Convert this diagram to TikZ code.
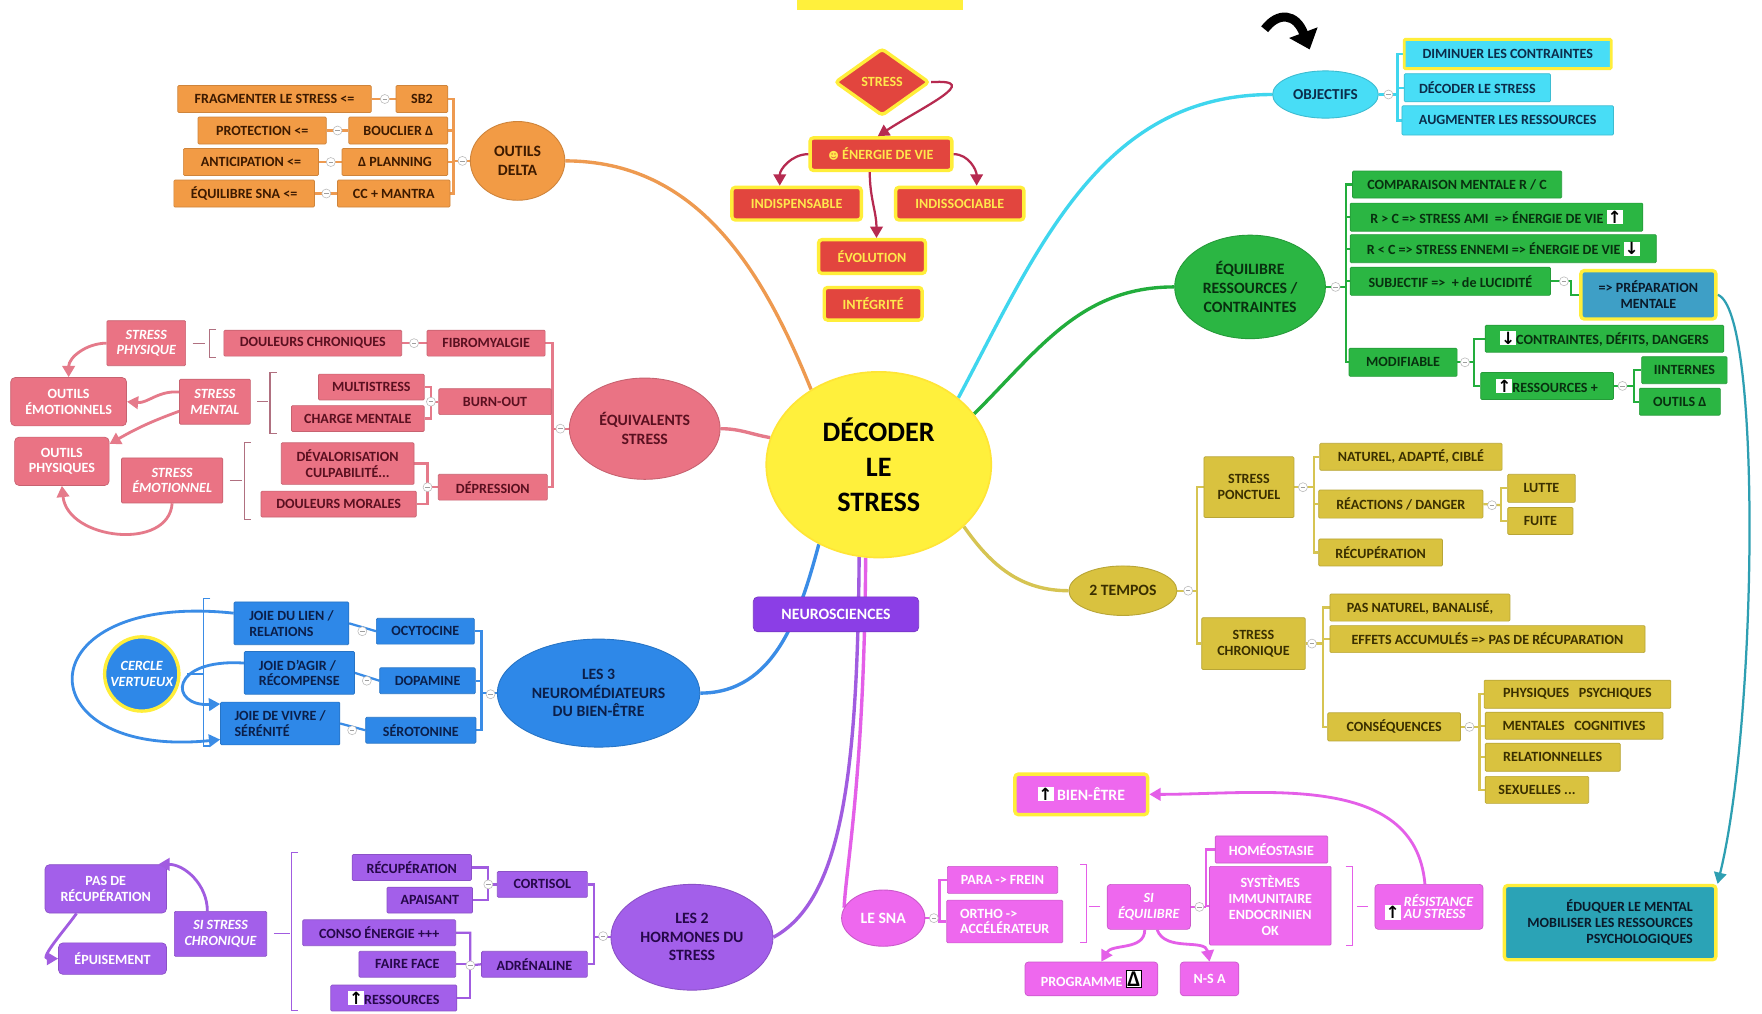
\documentclass[tikz,border=0pt]{standalone}
\usepackage{fontspec}
\setmainfont{Carlito}
\newfontfamily\symfont{DejaVu Sans}
\usepackage{tikz}
\usetikzlibrary{positioning, shapes.geometric, arrows.meta, backgrounds}
\definecolor{ctr_yel}{HTML}{FFF03C}
\definecolor{or_fill}{HTML}{F29B45}
\definecolor{or_text}{HTML}{3D1A00}
\definecolor{or_line}{HTML}{EE9A50}
\definecolor{pk_fill}{HTML}{EA7384}
\definecolor{pk_text}{HTML}{5A1020}
\definecolor{pk_line}{HTML}{E57A8A}
\definecolor{pk_brk}{HTML}{B07080}
\definecolor{bl_fill}{HTML}{2E88E8}
\definecolor{bl_text}{HTML}{0B1F4A}
\definecolor{bl_line}{HTML}{3A8CE6}
\definecolor{pu_fill}{HTML}{A35FEA}
\definecolor{pu_text}{HTML}{26084A}
\definecolor{pu_line}{HTML}{A15CE0}
\definecolor{ma_fill}{HTML}{EE68EE}
\definecolor{ma_line}{HTML}{E45FE8}
\definecolor{cy_fill}{HTML}{48DDF6}
\definecolor{cy_text}{HTML}{0C2C4A}
\definecolor{cy_line}{HTML}{3FD6EE}
\definecolor{gr_fill}{HTML}{2BB643}
\definecolor{gr_text}{HTML}{08300F}
\definecolor{gr_line}{HTML}{22AD3C}
\definecolor{ol_fill}{HTML}{D9C23F}
\definecolor{ol_text}{HTML}{3A2F00}
\definecolor{ol_line}{HTML}{D6C452}
\definecolor{rd_fill}{HTML}{E2453E}
\definecolor{rd_edge}{HTML}{FFEE3A}
\definecolor{rd_text}{HTML}{FFE84C}
\definecolor{rd_arrow}{HTML}{B62A50}
\definecolor{tl_fill}{HTML}{2BA3B6}
\definecolor{tl_prep}{HTML}{3E9FC6}
\definecolor{tl_line}{HTML}{2E9FB2}
\definecolor{tl_text}{HTML}{0A1A2A}
\definecolor{ns_fill}{HTML}{8B3EE6}
\newcommand{\boxfont}{\fontsize{12.5}{14}\selectfont\bfseries}
\newcommand{\topicfont}{\fontsize{14}{16.5}\selectfont\bfseries}
\newcommand{\centrefont}{\fontsize{25}{31}\selectfont\bfseries}
\newcommand{\arrup}{{\setlength{\fboxsep}{0.8pt}\colorbox{white}{\textcolor{black}{\symfont\bfseries\fontsize{15}{15}\selectfont ↑}}}}
\newcommand{\arrdown}{{\setlength{\fboxsep}{0.8pt}\colorbox{white}{\textcolor{black}{\symfont\bfseries\fontsize{15}{15}\selectfont ↓}}}}
\newcommand{\deltabox}{{\setlength{\fboxsep}{1pt}\fcolorbox{black}{white}{\textcolor{black}{\fontsize{20}{20}\selectfont Δ}}}}
\newcommand{\lbrk}[4]{\draw[#1] (#2+6,#3) -- (#2,#3) -- (#2,#4) -- (#2+6,#4);}
\newcommand{\rbrk}[4]{\draw[#1] (#2-6,#3) -- (#2,#3) -- (#2,#4) -- (#2-6,#4);}
\tikzset{
  sz/.style 2 args={minimum width=#1, minimum height=#2},
  box/.style={rectangle, inner sep=1.5pt, align=center, font=\boxfont, rounded corners=1pt, line width=0.6pt},
  topic/.style={ellipse, inner sep=0pt, align=center, font=\topicfont, line width=0.8pt},
  coll/.style={circle, draw=gray!55, fill=white, inner sep=0pt, minimum size=8pt, line width=0.5pt,
    path picture={\draw[gray!75, line width=0.6pt] ([xshift=-2pt]path picture bounding box.center) -- ([xshift=2pt]path picture bounding box.center);}},
  obox/.style={box, fill=or_fill, draw=or_fill!85!black, text=or_text},
  pbox/.style={box, fill=pk_fill, draw=pk_fill!85!black, text=pk_text},
  pwhite/.style={box, fill=pk_fill, draw=pk_fill!85!black, text=white},
  bbox/.style={box, fill=bl_fill, draw=bl_fill!85!black, text=bl_text},
  vbox/.style={box, fill=pu_fill, draw=pu_fill!85!black, text=pu_text},
  vwhite/.style={box, fill=pu_fill, draw=pu_fill!85!black, text=white},
  mbox/.style={box, fill=ma_fill, draw=ma_fill!85!black, text=white},
  cbox/.style={box, fill=cy_fill, draw=cy_fill!85!black, text=cy_text},
  gbox/.style={box, fill=gr_fill, draw=gr_fill!85!black, text=gr_text},
  ybox/.style={box, fill=ol_fill, draw=ol_fill!85!black, text=ol_text},
  rbox/.style={box, fill=rd_fill, draw=rd_edge, line width=3pt, rounded corners=3pt, text=rd_text},
  tbox/.style={box, fill=tl_fill, draw=rd_edge, line width=3pt, rounded corners=3pt, text=tl_text},
  oline/.style={draw=or_line, line width=2pt},
  pline/.style={draw=pk_line, line width=2pt},
  bline/.style={draw=bl_line, line width=2pt},
  vline/.style={draw=pu_line, line width=2pt},
  mline/.style={draw=ma_line, line width=2pt},
  cline/.style={draw=cy_line, line width=2pt},
  gline/.style={draw=gr_line, line width=2pt},
  yline/.style={draw=ol_line, line width=2pt},
  branch/.style={line width=3pt},
  tip/.style={-{Triangle[length=10pt,width=11pt]}},
  brk/.style={line width=1pt}
}
\begin{document}
\begin{tikzpicture}[x=1pt, y=-1pt]
\useasboundingbox (0,0) rectangle (1566,901);
% centre and the box cut by the top border
\fill[ctr_yel] (708,-6) rectangle (856,9);
\node[topic, fill=ctr_yel, draw=ctr_yel!90!orange, line width=1.5pt, sz={200}{165}, font=\centrefont] (decoder) at (781,413) {DÉCODER\\LE\\STRESS};
\node[box, fill=ns_fill, draw=ns_fill!85!black, text=white, font=\topicfont, rounded corners=4pt, sz={147}{31}] (neurosc) at (743,546) {NEUROSCIENCES};

% stress, energie de vie
\node[rbox, diamond, aspect=1.4, sz={84}{60}] (stressd) at (784,73) {STRESS};
\node[rbox, sz={126}{29}] (energie) at (783,137) {{\symfont\small ☻} ÉNERGIE DE VIE};
\node[rbox, sz={115}{29}] (indisp) at (708,181) {INDISPENSABLE};
\node[rbox, sz={114}{29}] (indisso) at (853,181) {INDISSOCIABLE};
\node[rbox, sz={95}{30}] (evol) at (775,228) {ÉVOLUTION};
\node[rbox, sz={87}{29}] (integ) at (776,270) {INTÉGRITÉ};

% outils delta
\node[topic, fill=or_fill, draw=or_fill!85!black, text=or_text, sz={84}{70}] (odelta) at (460,143) {OUTILS\\DELTA};
\node[obox, sz={172}{24}] (frag) at (244,88) {FRAGMENTER LE STRESS <=};
\node[obox, sz={46}{24}] (sbtwo) at (375,88) {SB2};
\node[obox, sz={114}{24}] (protec) at (233,116) {PROTECTION <=};
\node[obox, sz={88}{24}] (bouclier) at (354,116) {BOUCLIER Δ};
\node[obox, sz={120}{24}] (anticip) at (223,144) {ANTICIPATION <=};
\node[obox, sz={94}{24}] (planning) at (351,144) {Δ PLANNING};
\node[obox, sz={125}{24}] (equisna) at (217,172) {ÉQUILIBRE SNA <=};
\node[obox, sz={100}{24}] (mantra) at (350,172) {CC + MANTRA};

% equivalents stress
\node[topic, fill=pk_fill, draw=pk_fill!85!black, text=pk_text, sz={134}{90}] (equiv) at (573,381) {ÉQUIVALENTS\\STRESS};
\node[pbox, sz={105}{23}] (fibro) at (432,305) {FIBROMYALGIE};
\node[pbox, sz={100}{23}] (burnout) at (440,357) {BURN-OUT};
\node[pbox, sz={97}{23}] (depress) at (438,433) {DÉPRESSION};
\node[pbox, sz={158}{23}] (douleurs) at (278,305) {DOULEURS CHRONIQUES};
\node[pbox, sz={94}{23}] (multi) at (330,344) {MULTISTRESS};
\node[pbox, sz={118}{23}] (charge) at (318,372) {CHARGE MENTALE};
\node[pbox, sz={118}{37}] (devalo) at (309,412) {DÉVALORISATION\\CULPABILITÉ...};
\node[pbox, sz={138}{23}] (morales) at (301,448) {DOULEURS MORALES};
\node[pwhite, font=\boxfont\itshape, sz={70}{40}] (sphys) at (130,305) {STRESS\\PHYSIQUE};
\node[pwhite, font=\boxfont\itshape, sz={63}{40}] (smental) at (191,357) {STRESS\\MENTAL};
\node[pwhite, font=\boxfont\itshape, sz={90}{40}] (semot) at (153,427) {STRESS\\ÉMOTIONNEL};
\node[pwhite, rounded corners=4pt, sz={103}{43}] (outemo) at (61,357) {OUTILS\\ÉMOTIONNELS};
\node[pwhite, rounded corners=4pt, sz={84}{43}] (outphys) at (55,410) {OUTILS\\PHYSIQUES};

% neuromediateurs
\node[topic, fill=bl_fill, draw=bl_fill!85!black, text=bl_text, sz={180}{96}] (neuro) at (532,616) {LES 3\\NEUROMÉDIATEURS\\DU BIEN-ÊTRE};
\node[bbox, sz={87}{23}] (ocyto) at (378,561) {OCYTOCINE};
\node[bbox, sz={85}{23}] (dopa) at (380,605) {DOPAMINE};
\node[bbox, sz={98}{23}] (sero) at (374,649) {SÉROTONINE};
\node[bbox, align=left, sz={102}{38}] (joielien) at (259,554) {JOIE DU LIEN /\\RELATIONS};
\node[bbox, align=left, sz={98}{38}] (joieagir) at (266,598) {JOIE D'AGIR /\\RÉCOMPENSE};
\node[bbox, align=left, sz={106}{38}] (joievivre) at (249,643) {JOIE DE VIVRE /\\SÉRÉNITÉ};
\node[circle, fill=bl_fill, draw=rd_edge, line width=3pt, text=white, inner sep=0pt, align=center, font=\boxfont\itshape, minimum size=66pt] (cercle) at (126,599) {CERCLE\\VERTUEUX};

% hormones du stress
\node[topic, fill=pu_fill, draw=pu_fill!85!black, text=pu_text, sz={144}{94}] (hormones) at (615,833) {LES 2\\HORMONES DU\\STRESS};
\node[vbox, sz={80}{23}] (cortisol) at (482,786) {CORTISOL};
\node[vbox, sz={94}{23}] (adrena) at (475,857) {ADRÉNALINE};
\node[vbox, sz={106}{23}] (recupv) at (366,771) {RÉCUPÉRATION};
\node[vbox, sz={76}{23}] (apaisant) at (382,800) {APAISANT};
\node[vbox, sz={136}{23}] (conso) at (337,829) {CONSO ÉNERGIE +++};
\node[vbox, sz={86}{23}] (faireface) at (362,857) {FAIRE FACE};
\node[vbox, sz={112}{23}] (ressv) at (350,887) {\arrup RESSOURCES};
\node[vwhite, font=\boxfont\itshape, sz={82}{40}] (sichron) at (196,830) {SI STRESS\\CHRONIQUE};
\node[vwhite, rounded corners=4pt, sz={108}{43}] (pasrecup) at (94,790) {PAS DE\\RÉCUPÉRATION};
\node[vwhite, rounded corners=4pt, sz={96}{28}] (epuis) at (100,852) {ÉPUISEMENT};

% le sna
\node[topic, fill=ma_fill, draw=ma_fill!85!black, text=white, sz={74}{50}] (sna) at (785,816) {LE SNA};
\node[mbox, sz={98}{24}] (para) at (891,782) {PARA -> FREIN};
\node[mbox, align=left, sz={103}{38}] (ortho) at (893,819) {ORTHO ->\\ACCÉLÉRATEUR};
\node[mbox, font=\boxfont\itshape, rounded corners=3pt, sz={74}{40}] (siequi) at (1021,806) {SI\\ÉQUILIBRE};
\node[mbox, sz={100}{24}] (homeo) at (1130,755) {HOMÉOSTASIE};
\node[mbox, sz={108}{70}] (systemes) at (1129,805) {SYSTÈMES\\IMMUNITAIRE\\ENDOCRINIEN\\OK};
\node[mbox, rounded corners=3pt, sz={96}{40}] (resist) at (1270,806) {\arrup\ \itshape\shortstack[l]{RÉSISTANCE\\AU STRESS}};
\node[mbox, draw=rd_edge, line width=3pt, rounded corners=3pt, font=\topicfont, sz={118}{36}] (bienetre) at (961,706) {\arrup\ BIEN-ÊTRE};
\node[mbox, rounded corners=3pt, sz={118}{30}] (programme) at (970,870) {PROGRAMME \deltabox};
\node[mbox, rounded corners=3pt, sz={52}{30}] (nsa) at (1075,870) {N-S A};

% objectifs
\node[topic, fill=cy_fill, draw=cy_fill!85!black, text=cy_text, font=\fontsize{13.5}{16}\selectfont\bfseries, sz={94}{42}] (objectifs) at (1178,84) {OBJECTIFS};
\node[cbox, draw=rd_edge, line width=2.5pt, sz={184}{26}] (diminuer) at (1340,48) {DIMINUER LES CONTRAINTES};
\node[cbox, sz={130}{25}] (decodels) at (1313,78) {DÉCODER LE STRESS};
\node[cbox, sz={188}{26}] (augmenter) at (1340,107) {AUGMENTER LES RESSOURCES};

% equilibre ressources / contraintes
\node[topic, fill=gr_fill, draw=gr_fill!85!black, text=gr_text, sz={134}{92}] (equil) at (1111,255) {ÉQUILIBRE\\RESSOURCES /\\CONTRAINTES};
\node[gbox, sz={186}{24}] (compar) at (1295,164) {COMPARAISON MENTALE R / C};
\node[gbox, sz={260}{25}] (rsupc) at (1330,193) {R > C => STRESS AMI \ => ÉNERGIE DE VIE \arrup};
\node[gbox, sz={272}{25}] (rinfc) at (1336,221) {R < C => STRESS ENNEMI => ÉNERGIE DE VIE \arrdown};
\node[gbox, sz={178}{25}] (subject) at (1289,250) {SUBJECTIF => \ + de LUCIDITÉ};
\node[tbox, fill=tl_prep, sz={120}{43}] (prepa) at (1465,262) {=> PRÉPARATION\\MENTALE};
\node[gbox, sz={96}{25}] (modif) at (1247,322) {MODIFIABLE};
\node[gbox, sz={212}{24}] (contr) at (1426,301) {\arrdown CONTRAINTES, DÉFITS, DANGERS};
\node[gbox, sz={118}{24}] (ressplus) at (1375,343) {\arrup RESSOURCES +};
\node[gbox, sz={76}{24}] (internes) at (1497,329) {IINTERNES};
\node[gbox, sz={72}{24}] (outilsd) at (1493,357) {OUTILS Δ};
\node[tbox, align=right, sz={188}{66}] (eduquer) at (1431,820) {ÉDUQUER LE MENTAL\\MOBILISER LES RESSOURCES\\PSYCHOLOGIQUES};

% 2 tempos
\node[topic, fill=ol_fill, draw=ol_fill!85!black, text=ol_text, sz={96}{44}] (tempos) at (998,525) {2 TEMPOS};
\node[ybox, sz={80}{54}] (ponct) at (1110,433) {STRESS\\PONCTUEL};
\node[ybox, sz={92}{46}] (chron) at (1114,572) {STRESS\\CHRONIQUE};
\node[ybox, sz={162}{24}] (naturel) at (1254,406) {NATUREL, ADAPTÉ, CIBLÉ};
\node[ybox, sz={146}{25}] (reactions) at (1245,448) {RÉACTIONS / DANGER};
\node[ybox, sz={60}{25}] (lutte) at (1370,434) {LUTTE};
\node[ybox, sz={58}{24}] (fuite) at (1369,463) {FUITE};
\node[ybox, sz={110}{24}] (recupy) at (1227,491) {RÉCUPÉRATION};
\node[ybox, sz={160}{24}] (pasnat) at (1262,540) {PAS NATUREL, BANALISÉ,};
\node[ybox, sz={280}{24}] (effets) at (1322,568) {EFFETS ACCUMULÉS => PAS DE RÉCUPARATION};
\node[ybox, sz={118}{25}] (consequ) at (1239,646) {CONSÉQUENCES};
\node[ybox, sz={166}{25}] (physiq) at (1402,617) {PHYSIQUES \ \ PSYCHIQUES};
\node[ybox, sz={158}{24}] (mentales) at (1399,645) {MENTALES \ \ COGNITIVES};
\node[ybox, sz={120}{25}] (relation) at (1380,673) {RELATIONNELLES};
\node[ybox, sz={92}{24}] (sexuel) at (1366,702) {SEXUELLES ...};

% collapse marks
\foreach \p [count=\i] in {(342,88),(300,116),(294,144),(290,172),(411,143),
  (368,305),(383,357),(380,433),(498,381),(322,561),(326,605),(313,649),(436,617),
  (434,786),(418,858),(536,832),(830,816),(1066,806),(1234,84),
  (1187,255),(1390,250),(1302,322),(1442,343),
  (1056,525),(1158,433),(1326,449),(1166,572),(1306,646)}
  \node[coll] (coll\i) at \p {};

% black arrow
\draw[line width=8pt, -{Triangle[length=16pt,width=26pt]}] (1124,26) .. controls (1136,10) and (1152,12) .. (1164,44);

\begin{scope}[on background layer]
  \fill[white] (0,0) rectangle (1566,901);
  % main branches
  \draw[branch, or_line] (decoder.132) to[out=112, in=0] (odelta.east);
  \draw[branch, cy_line] (decoder.40) to[out=62, in=180] (objectifs.west);
  \draw[branch, gr_line] (decoder.28) to[out=45, in=180] (equil.west);
  \draw[branch, pk_line] (decoder.166) to[out=170, in=0] (equiv.east);
  \draw[branch, ol_line] (decoder.-36) to[out=-55, in=180] (tempos.west);
  \draw[branch, bl_line] (decoder.233) to[out=-105, in=0] (neuro.east);
  \draw[branch, pu_line] (decoder.258) .. controls (762,690) and (748,800) .. (hormones.east);
  \draw[branch, ma_line] (decoder.262) .. controls (768,690) and (752,770) .. (sna.165);
  \draw[tl_line, line width=2pt, tip] (prepa.east) .. controls (1566,275) and (1562,640) .. (eduquer.north east);

  % outils delta
  \coordinate (ojoin) at (403,143);
  \draw[oline] (odelta.west) -- (ojoin);
  \foreach \n in {sbtwo,bouclier,planning,mantra} \draw[oline] (ojoin) |- (\n.east);
  \foreach \a/\b in {frag/sbtwo,protec/bouclier,anticip/planning,equisna/mantra} \draw[oline] (\a.east) -- (\b.west);

  % equivalents
  \coordinate (pjoin) at (491,381);
  \draw[pline] (equiv.west) -- (pjoin);
  \foreach \n in {fibro,burnout,depress} \draw[pline] (pjoin) |- (\n.east);
  \draw[pline] (douleurs.east) -- (fibro.west);
  \coordinate (pj_burn) at (383,357);
  \draw[pline] (burnout.west) -- (pj_burn) |- (multi.east);
  \draw[pline] (pj_burn) |- (charge.east);
  \coordinate (pj_dep) at (380,433);
  \draw[pline] (depress.west) -- (pj_dep) |- (devalo.east);
  \draw[pline] (pj_dep) |- (morales.east);

  % neuromediateurs
  \coordinate (bjoin) at (428,616);
  \draw[bline] (neuro.west) -- (bjoin);
  \foreach \n in {ocyto,dopa,sero} \draw[bline] (bjoin) |- (\n.east);
  \foreach \a/\b in {joielien/ocyto,joieagir/dopa,joievivre/sero} \draw[bline] (\a.east) -- (\b.west);

  % hormones
  \coordinate (vjoin) at (528,833);
  \draw[vline] (hormones.west) -- (vjoin);
  \foreach \n in {cortisol,adrena} \draw[vline] (vjoin) |- (\n.east);
  \coordinate (vj_cort) at (434,786);
  \draw[vline] (cortisol.west) -- (vj_cort) |- (recupv.east);
  \draw[vline] (vj_cort) |- (apaisant.east);
  \coordinate (vj_adr) at (418,858);
  \draw[vline] (adrena.west) -- (vj_adr) |- (conso.east);
  \draw[vline] (vj_adr) |- (faireface.east);
  \draw[vline] (vj_adr) |- (ressv.east);

  % le sna
  \coordinate (mjoin) at (835,816);
  \draw[mline] (sna.east) -- (mjoin);
  \foreach \n in {para,ortho} \draw[mline] (mjoin) |- (\n.west);
  \coordinate (mj_equi) at (1072,806);
  \draw[mline] (siequi.east) -- (mj_equi);
  \foreach \n in {homeo,systemes} \draw[mline] (mj_equi) |- (\n.west);

  % objectifs
  \coordinate (cjoin) at (1242,84);
  \draw[cline] (objectifs.east) -- (cjoin);
  \foreach \n in {diminuer,decodels,augmenter} \draw[cline] (cjoin) |- (\n.west);

  % equilibre
  \coordinate (gjoin) at (1196,255);
  \draw[gline] (equil.east) -- (gjoin);
  \foreach \n in {compar,rsupc,rinfc,subject,modif} \draw[gline] (gjoin) |- (\n.west);
  \coordinate (gj_sub) at (1396,262);
  \draw[gline] (subject.east) -| (gj_sub) -- (prepa.west);
  \coordinate (gj_mod) at (1310,322);
  \draw[gline] (modif.east) -- (gj_mod);
  \foreach \n in {contr,ressplus} \draw[gline] (gj_mod) |- (\n.west);
  \coordinate (gj_res) at (1452,343);
  \draw[gline] (ressplus.east) -- (gj_res);
  \foreach \n in {internes,outilsd} \draw[gline] (gj_res) |- (\n.west);

  % 2 tempos
  \coordinate (yjoin) at (1064,525);
  \draw[yline] (tempos.east) -- (yjoin);
  \foreach \n in {ponct,chron} \draw[yline] (yjoin) |- (\n.west);
  \coordinate (yj_ponct) at (1168,433);
  \draw[yline] (ponct.east) -- (yj_ponct);
  \foreach \n in {naturel,reactions,recupy} \draw[yline] (yj_ponct) |- (\n.west);
  \coordinate (yj_reac) at (1334,449);
  \draw[yline] (reactions.east) -- (yj_reac);
  \foreach \n in {lutte,fuite} \draw[yline] (yj_reac) |- (\n.west);
  \coordinate (yj_chron) at (1176,572);
  \draw[yline] (chron.east) -- (yj_chron);
  \foreach \n in {pasnat,effets,consequ} \draw[yline] (yj_chron) |- (\n.west);
  \coordinate (yj_cons) at (1315,646);
  \draw[yline] (consequ.east) -- (yj_cons);
  \foreach \n in {physiq,mentales,relation,sexuel} \draw[yline] (yj_cons) |- (\n.west);
\end{scope}

% brackets
\lbrk{brk, pk_brk}{186}{293}{318}
\lbrk{brk, pk_brk}{240}{331}{385}
\lbrk{brk, pk_brk}{217}{393}{462}
\draw[brk, pk_brk] ([xshift=6pt]sphys.east) -- ([xshift=17pt]sphys.east);
\draw[brk, pk_brk] ([xshift=6pt]smental.east) -- ([xshift=15pt]smental.east);
\draw[brk, pk_brk] ([xshift=6pt]semot.east) -- ([xshift=17pt]semot.east);
\lbrk{brk, bl_line}{181}{532}{663}
\draw[brk, bl_line] ([xshift=6pt]cercle.east) -- ([xshift=20pt]cercle.east);
\lbrk{brk, pu_line}{259}{758}{898}
\draw[brk, pu_line] ([xshift=6pt]sichron.east) -- ([xshift=20pt]sichron.east);
\rbrk{brk, ma_line}{966}{768}{838}
\draw[brk, ma_line] ([xshift=-6pt]siequi.west) -- ([xshift=-16pt]siequi.west);
\rbrk{brk, ma_line}{1202}{770}{840}
\draw[brk, ma_line] ([xshift=-6pt]resist.west) -- ([xshift=-16pt]resist.west);

% arrows
\draw[rd_arrow, line width=2pt, tip] (stressd.east) .. controls (875,70) and (820,95) .. (energie.100);
\draw[rd_arrow, line width=2pt, tip] (energie.west) to[out=180, in=90] ([xshift=-15pt]indisp.north);
\draw[rd_arrow, line width=2pt, tip] (energie.east) to[out=0, in=90] ([xshift=15pt]indisso.north);
\draw[rd_arrow, line width=2pt, tip] ([xshift=-10pt]energie.south) to[out=-90, in=90] ([xshift=4pt]evol.north);
\draw[pk_line, line width=2.5pt, tip] (sphys.west) to[out=180, in=90] (outemo.north);
\draw[pk_line, line width=2.5pt, tip] (smental.165) to[out=175, in=-5] (outemo.east);
\draw[pk_line, line width=2.5pt, tip] (smental.195) to[out=200, in=30] (outphys.20);
\draw[pk_line, line width=2.5pt, tip] (semot.south) .. controls (150,490) and (60,480) .. (outphys.south);
\draw[bl_line, line width=2.5pt, tip] (joielien.170) .. controls (20,525) and (20,675) .. (joievivre.195);
\draw[bl_line, line width=2.5pt, tip] (joieagir.170) .. controls (150,585) and (150,628) .. (joievivre.162);
\draw[pu_line, line width=2.5pt, tip] (sichron.120) to[out=90, in=0] (pasrecup.25);
\draw[pu_line, line width=2.5pt, tip] (pasrecup.220) to[out=235, in=180] (epuis.west);
\draw[ma_line, line width=2.5pt, tip] (resist.100) to[out=95, in=0] (bienetre.east);
\draw[ma_line, line width=2.5pt, tip] (siequi.260) to[out=-90, in=60] (programme.60);
\draw[ma_line, line width=2.5pt, tip] (siequi.290) to[out=-70, in=100] (nsa.north);
\end{tikzpicture}
\end{document}
